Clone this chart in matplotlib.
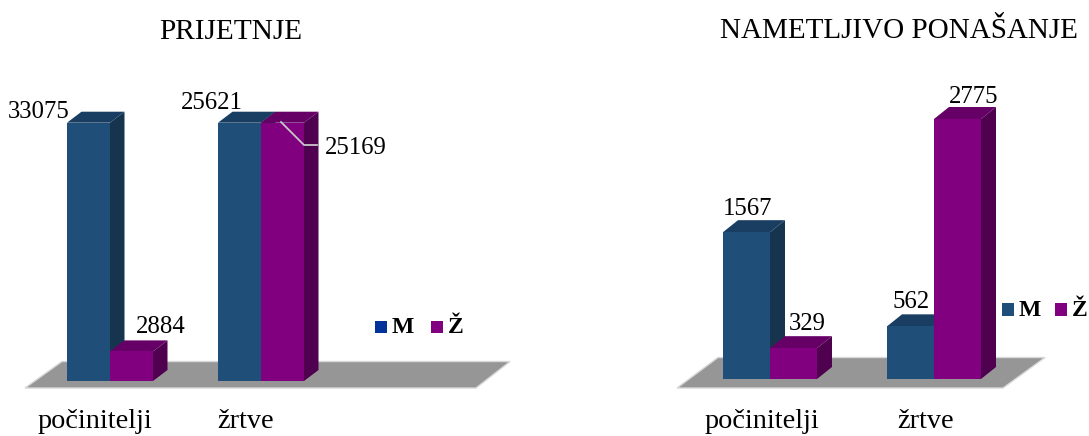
import numpy as np
import matplotlib
matplotlib.use("Agg")
import matplotlib.pyplot as plt
from matplotlib.patches import Polygon, Rectangle
from matplotlib.transforms import IdentityTransform

plt.rcParams['font.family'] = ['Liberation Serif', 'DejaVu Serif']

W = 1089
H = 436

kategorije = ["počinitelji", "žrtve"]

prijetnje_m = [33075, 25621]
prijetnje_z = [2884, 25169]
# os lijevog grafa je odrezana, pa su stupci iznad ove vrijednosti iste visine
prijetnje_max = 25169

nametljivo_m = [1567, 562]
nametljivo_z = [329, 2775]
nametljivo_max = 2775

PLAVA = ("#1F4E79", "#1A3E62", "#17344F")
LJUB = ("#800080", "#660066", "#4F004F")
SIVA = "#969696"

fig = plt.figure(figsize=(W / 100, H / 100), dpi=100)


def stupac(ax, x, v, boje, sirina, dx, dy):
    x0 = x - sirina / 2
    x1 = x + sirina / 2
    ax.add_patch(Polygon([(x0, v), (x1, v), (x1 + dx, v + dy), (x0 + dx, v + dy)],
                         fc=boje[1], ec="none", clip_on=False, zorder=3))
    ax.add_patch(Polygon([(x1, 0), (x1 + dx, dy), (x1 + dx, v + dy), (x1, v)],
                         fc=boje[2], ec="none", clip_on=False, zorder=3))
    ax.bar(x, v, width=sirina, color=boje[0], zorder=3, clip_on=False)


def graf(x_px, razmak, vrh, dno, lijevo, desno, m, z, ymax, sirina_px, dx_px, dy_px,
         pomaci, pomak_kat, pod):
    ax = fig.add_axes([lijevo / W, 1 - dno / H, (desno - lijevo) / W, (dno - vrh) / H])
    ax.set_xlim((lijevo - x_px) / razmak, (desno - x_px) / razmak)
    ax.set_ylim(0, ymax)
    ax.patch.set_visible(False)
    for s in ax.spines.values():
        s.set_visible(False)
    ax.set_yticks([])

    # pod je ukras ispod stupaca, zadan u pikselima slike
    tocke = [(px, H - py) for px, py in pod]
    ax.add_patch(Polygon(tocke, fc=SIVA, ec="#D8D8D8", lw=1, transform=IdentityTransform(),
                         clip_on=False, zorder=1))

    sirina = sirina_px / razmak
    dx = dx_px / razmak
    dy = dy_px / (dno - vrh) * ymax
    poz = np.arange(len(kategorije))
    vm = np.minimum(m, ymax)
    vz = np.minimum(z, ymax)
    k = 0
    for i in poz:
        stupac(ax, i - sirina / 2, vm[i], PLAVA, sirina, dx, dy)
        stupac(ax, i + sirina / 2, vz[i], LJUB, sirina, dx, dy)
        ax.annotate(str(m[i]), (i - sirina / 2, vm[i]), xytext=pomaci[k], textcoords="offset pixels",
                    ha="center", va="center", fontsize=17.8, zorder=5, annotation_clip=False)
        ax.annotate(str(z[i]), (i + sirina / 2, vz[i]), xytext=pomaci[k + 1], textcoords="offset pixels",
                    ha="center", va="center", fontsize=17.8, zorder=5, annotation_clip=False)
        k += 2

    ax.set_xticks([])
    for i in poz:
        ax.annotate(kategorije[i], (i, 0), xytext=(pomak_kat, dno - 428), textcoords="offset pixels",
                    xycoords=ax.get_xaxis_transform(), ha="center", va="baseline", fontsize=20.3,
                    annotation_clip=False)
    return ax


def legenda(x_m, x_z, y, boja_m):
    for x, boja, t in [(x_m, boja_m, "M"), (x_z, LJUB[0], "Ž")]:
        fig.add_artist(Rectangle((x / W, 1 - (y + 12.5) / H), 12 / W, 12.5 / H,
                                 transform=fig.transFigure, fc=boja, ec="none"))
        fig.text((x + 17) / W, 1 - (y + 7) / H, t, fontsize=17, fontweight="bold",
                 ha="left", va="center")


ax1 = graf(110, 151, 122.7, 381, 0, 540, prijetnje_m, prijetnje_z, prijetnje_max, 43, 14.5, 11,
           [(-50, 11), (29, 24), (-28, 20), (73, -25)], -15,
           [(25, 388), (62, 361.5), (510, 361.5), (476, 388)])
graf(770, 164, 119, 379, 660, 1089, nametljivo_m, nametljivo_z, nametljivo_max, 47, 15, 12,
     [(1, 23), (14, 24), (1, 24), (16, 22)], -8,
     [(677, 388), (718, 357.5), (1045, 357.5), (1003, 388)])

# linija od stupca do oznake 25169
ax1.plot([281, 304, 317], [H - 122, H - 145, H - 145], color="#C8C8C8", lw=1.3,
         transform=IdentityTransform(), clip_on=False, zorder=4)

fig.text(231 / W, 1 - 32 / H, "PRIJETNJE", fontsize=21.2, ha="center", va="center")
fig.text(899 / W, 1 - 31 / H, "NAMETLJIVO PONAŠANJE", fontsize=21, ha="center", va="center")

legenda(375, 431, 320.5, "#003399")
legenda(1002, 1055, 303, PLAVA[0])

fig.savefig("out.png", dpi=100)
